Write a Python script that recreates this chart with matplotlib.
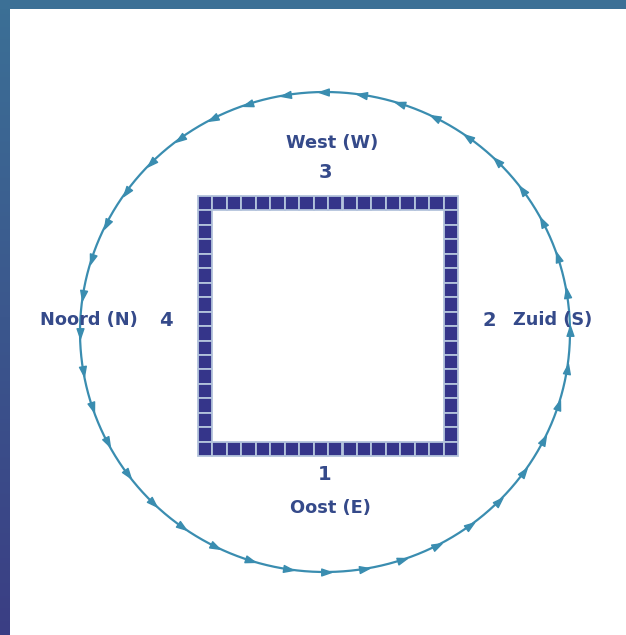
import numpy as np
import matplotlib
matplotlib.use("Agg")
from matplotlib import pyplot as plt
from matplotlib.patches import Rectangle
from matplotlib.markers import MarkerStyle
from matplotlib.path import Path

# windrichtingen en nummers rond het vierkant
labels = ["Oost (E)", "Zuid (S)", "West (W)", "Noord (N)"]
numbers = ["1", "2", "3", "4"]

n_cells = 18      # blokjes per zijde van het vierkant
n_arrows = 40     # pijltjes op de cirkel

W, H = 626, 635
fig = plt.figure(figsize=(W / 100, H / 100), dpi=100)
ax = fig.add_axes([0, 0, 1, 1])
ax.set_xlim(0, W)
ax.set_ylim(0, H)
ax.axis("off")

def py(y):
    # pixel y (van boven) naar data y
    return H - y

# blauwe rand met kleurverloop (links en boven)
top_col = np.array([0x3c, 0x70, 0x96]) / 255
bot_col = np.array([0x3a, 0x3e, 0x84]) / 255
t = np.linspace(0, 1, 256)[:, None]
grad = (1 - t) * top_col + t * bot_col
ax.imshow(grad[:, None, :], extent=[0, 10, 0, H], aspect="auto", zorder=1)
ax.add_patch(Rectangle((0, py(9)), W, 9, color=top_col, lw=0, zorder=1))

# cirkel met pijltjes (tegen de klok in)
cx, cy, rx, ry = 325, py(332), 245, 240
circ_col = "#3a8db0"
th = np.linspace(0, 2 * np.pi, 400)
ax.plot(cx + rx * np.cos(th), cy + ry * np.sin(th), color=circ_col, lw=1.6, zorder=2)

tri = Path([(1.0, 0), (-0.6, 0.55), (-0.6, -0.55), (1.0, 0)],
           [Path.MOVETO, Path.LINETO, Path.LINETO, Path.CLOSEPOLY])
for k in range(n_arrows):
    a = np.pi / 2 + k * 2 * np.pi / n_arrows
    x, y = cx + rx * np.cos(a), cy + ry * np.sin(a)
    dx, dy = -rx * np.sin(a), ry * np.cos(a)
    ang = np.degrees(np.arctan2(dy, dx))
    m = MarkerStyle(tri).rotated(deg=ang)
    ax.plot(x, y, marker=m, ms=9, color=circ_col, mec=circ_col, zorder=3)

# vierkant van blokjes
x0, y0, pitch = 198, 196, 14.45
sq_col = "#35358a"
for i in range(n_cells):
    for j in range(n_cells):
        if i in (0, n_cells - 1) or j in (0, n_cells - 1):
            ax.add_patch(Rectangle((x0 + i * pitch, py(y0 + (j + 1) * pitch)),
                                   pitch, pitch, facecolor=sq_col,
                                   edgecolor="#b4c4dc", lw=1.3, zorder=2))

# teksten
txt_col = "#354a8a"
kw = dict(color=txt_col, fontweight="bold", family="DejaVu Sans",
          va="center", ha="center", zorder=4)
ax.text(332, py(143), labels[2], fontsize=12.8, **kw)
ax.text(325, py(172), numbers[2], fontsize=14, **kw)
ax.text(325, py(475), numbers[0], fontsize=14, **kw)
ax.text(330, py(508), labels[0], fontsize=12.8, **kw)
ax.text(89, py(320), labels[3], fontsize=12.8, **kw)
ax.text(166, py(320), numbers[3], fontsize=14, **kw)
ax.text(489, py(320), numbers[1], fontsize=14, **kw)
ax.text(553, py(320), labels[1], fontsize=12.8, **kw)

plt.savefig("out.png", dpi=100)
